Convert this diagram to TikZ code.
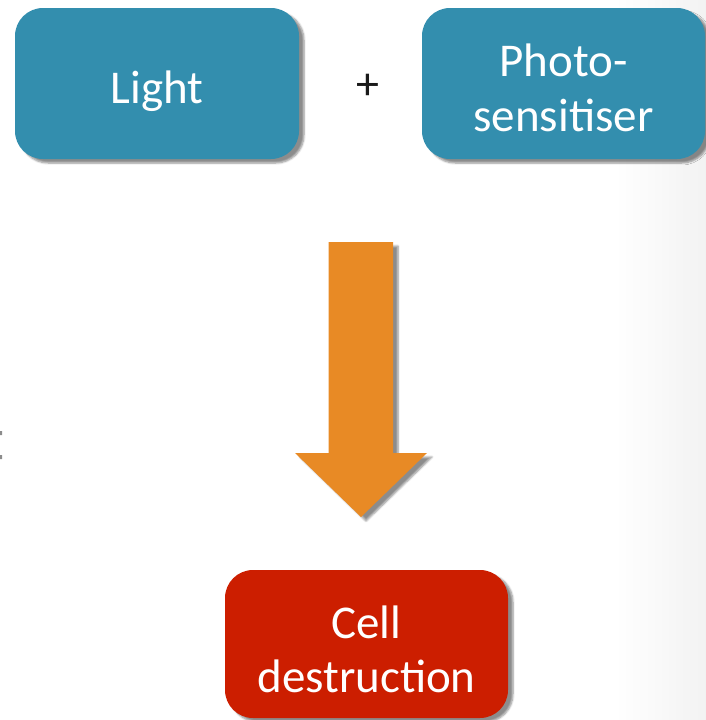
\documentclass[tikz,border=0pt]{standalone}
\usepackage{fontspec}
\setmainfont{Carlito}
\usepackage{xcolor}
\definecolor{petrol}{HTML}{338EAE}
\definecolor{brick}{HTML}{CC1E00}
\definecolor{amber}{HTML}{E88A25}
\definecolor{ink}{HTML}{1A1A1A}
\usepackage{tikz}
\usetikzlibrary{positioning,calc,shadows,shadows.blur}
\tikzset{
  box/.style={fill=petrol,text=white,rounded corners=28pt,align=center,
    minimum width=284pt,minimum height=151pt,inner sep=0pt,
    font=\fontsize{47}{54.5}\selectfont,
    blur shadow={shadow xshift=5pt,shadow yshift=-4pt,shadow blur steps=6,shadow opacity=45}},
  boxr/.style={box,fill=brick},
  plus/.style={text=ink,font=\fontsize{46}{46}\selectfont,inner sep=0pt},
  bigarrow/.style={fill=amber,
    blur shadow={shadow xshift=5pt,shadow yshift=-4pt,shadow blur steps=6,shadow opacity=45}},
}
\begin{document}
\begin{tikzpicture}[x=1pt,y=-1pt]
  \useasboundingbox (0,0) rectangle (706,720);
  % page edge
  \shade[left color=white,right color=black!5] (615,0) rectangle (706,720);
  \fill[black!45] (0,431) rectangle (2,435) (0,455) rectangle (2,459);
  % inputs
  \node[box,text height=40pt,text depth=0pt] (light) at (157,83.5) {Light};
  \node[box,minimum width=283pt,text height=95pt,text depth=0pt] (photo) at (563.5,83.5) {Photo-\\sensitiser};
  \node[plus] (plus) at (368,87) {+};
  % result
  \node[boxr,minimum width=283pt,minimum height=148pt,text height=97pt,text depth=0pt] (cell) at (366.5,644) {Cell\\destruction};
  % block arrow
  \coordinate (tail) at (361,242);
  \coordinate (tip) at (361,517);
  \fill[bigarrow] ($(tail)+(-32.5,0)$) -- ($(tail)+(32,0)$) -- ($(tip)+(32,-64)$)
    -- ($(tip)+(66,-64)$) -- (tip) -- ($(tip)+(-66,-64)$) -- ($(tip)+(-32.5,-64)$) -- cycle;
\end{tikzpicture}
\end{document}
